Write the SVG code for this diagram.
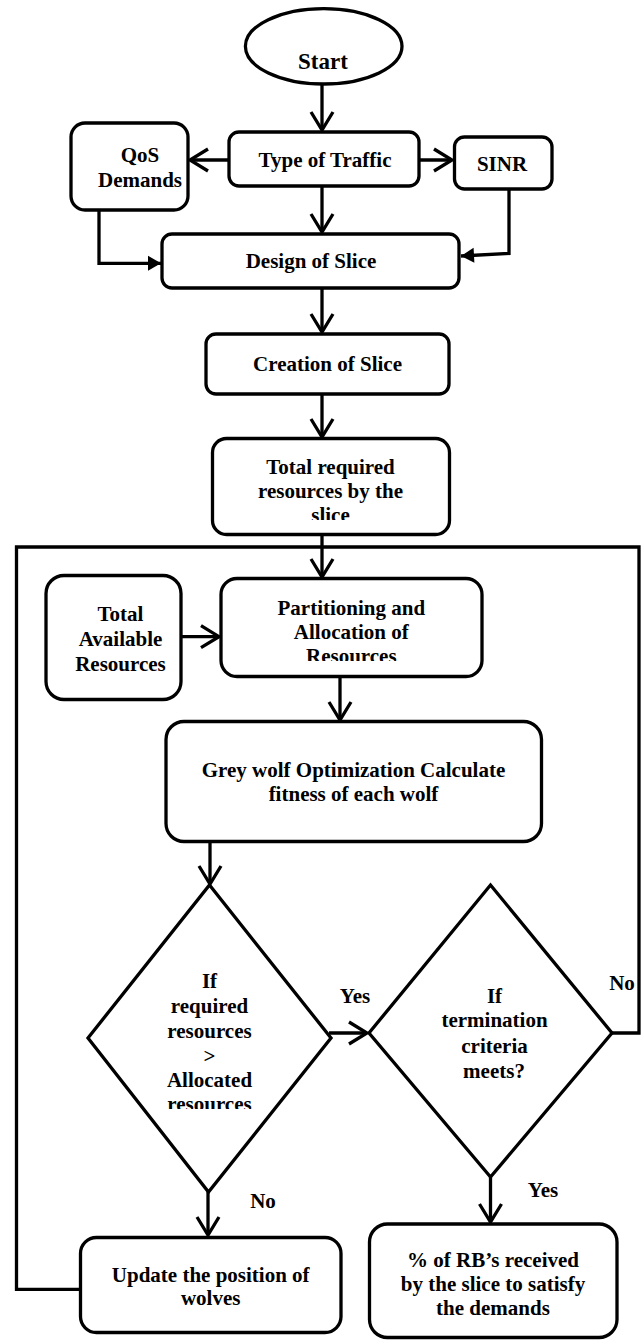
<svg xmlns="http://www.w3.org/2000/svg" width="641" height="1340" viewBox="0 0 641 1340">
<style>
.box{fill:#fff;stroke:#000;stroke-width:3.3}
.ln{fill:none;stroke:#000;stroke-width:3.3}
.t{font-family:"Liberation Serif","Times New Roman",serif;font-weight:bold;font-size:21px;fill:#000;text-anchor:middle}
</style>
<defs>
<marker id="open" markerUnits="userSpaceOnUse" viewBox="-22 -14 26 28" markerWidth="26" markerHeight="28" refX="0" refY="0" orient="auto">
<path d="M-18,-11 L0,0 L-18,11" fill="none" stroke="#000" stroke-width="3.3"/>
</marker>
<marker id="solid" markerUnits="userSpaceOnUse" viewBox="-15 -9 17 18" markerWidth="17" markerHeight="18" refX="0" refY="0" orient="auto">
<path d="M-13,-7.5 L0,0 L-13,7.5 Z" fill="#000"/>
</marker>
<clipPath id="c1"><rect x="200" y="430" width="260" height="90"/></clipPath>
<clipPath id="c2"><rect x="210" y="570" width="280" height="91"/></clipPath>
<clipPath id="c3"><rect x="80" y="960" width="260" height="149"/></clipPath>
</defs>

<g id="connectors">
<line class="ln" x1="322" y1="85" x2="322" y2="130" marker-end="url(#open)"/>
<line class="ln" x1="229" y1="160" x2="190" y2="160" marker-end="url(#open)"/>
<line class="ln" x1="419" y1="160" x2="452" y2="160" marker-end="url(#open)"/>
<line class="ln" x1="322" y1="186" x2="322" y2="232" marker-end="url(#open)"/>
<path class="ln" d="M99,210 V263.3 H161" marker-end="url(#solid)"/>
<path class="ln" d="M509,189 V253.5 L461,256" marker-end="url(#solid)"/>
<line class="ln" x1="322" y1="288" x2="322" y2="332" marker-end="url(#open)"/>
<line class="ln" x1="322" y1="394" x2="322" y2="437" marker-end="url(#open)"/>
<line class="ln" x1="322" y1="535" x2="322" y2="577" marker-end="url(#open)"/>
<path class="ln" d="M80,1289.3 H16.5 V547 H639 V1033 H612"/>
<line class="ln" x1="181" y1="636.7" x2="219" y2="636.7" marker-end="url(#open)"/>
<line class="ln" x1="340" y1="677" x2="340" y2="720" marker-end="url(#open)"/>
<line class="ln" x1="210" y1="842" x2="210" y2="884" marker-end="url(#open)"/>
<line class="ln" x1="329" y1="1033" x2="367" y2="1033" marker-end="url(#open)"/>
<line class="ln" x1="208" y1="1192" x2="208" y2="1235" marker-end="url(#open)"/>
<line class="ln" x1="490.5" y1="1177" x2="490.5" y2="1222" marker-end="url(#open)"/>
<text class="t" x="355" y="1003">Yes</text>
<text class="t" x="622" y="990">No</text>
<text class="t" x="263" y="1208">No</text>
<text class="t" x="543" y="1197">Yes</text>
</g>

<g id="start">
<ellipse class="box" cx="323.7" cy="46.3" rx="78.3" ry="37.7"/>
<text class="t" x="323" y="69" style="font-size:23px">Start</text>
</g>
<g id="traffic">
<rect class="box" x="229" y="132" width="190" height="54" rx="10"/>
<text class="t" x="325" y="167">Type of Traffic</text>
</g>
<g id="qos">
<rect class="box" x="71" y="123" width="117" height="87" rx="14"/>
<text class="t" x="140" y="162">QoS</text>
<text class="t" x="140" y="187">Demands</text>
</g>
<g id="sinr">
<rect class="box" x="454.5" y="137" width="97.5" height="52" rx="10"/>
<text class="t" x="502" y="171">SINR</text>
</g>
<g id="design">
<rect class="box" x="162" y="234" width="297" height="54" rx="10"/>
<text class="t" x="311" y="268">Design of Slice</text>
</g>
<g id="creation">
<rect class="box" x="206" y="334" width="243" height="60" rx="10"/>
<text class="t" x="327.5" y="371">Creation of Slice</text>
</g>
<g id="total-required">
<rect class="box" x="212.5" y="438.5" width="237" height="96" rx="14"/>
<g clip-path="url(#c1)">
<text class="t" x="330.5" y="474.3">Total required</text>
<text class="t" x="330.5" y="498.3">resources by the</text>
<text class="t" x="330.5" y="522.3">slice</text>
</g>
</g>
<g id="total-available">
<rect class="box" x="46" y="575.5" width="135" height="124" rx="18"/>
<text class="t" x="120.5" y="621">Total</text>
<text class="t" x="120.5" y="646">Available</text>
<text class="t" x="120.5" y="671">Resources</text>
</g>
<g id="partitioning">
<rect class="box" x="221" y="578.5" width="261" height="98" rx="16"/>
<g clip-path="url(#c2)">
<text class="t" x="351.3" y="615">Partitioning and</text>
<text class="t" x="351.3" y="639.3">Allocation of</text>
<text class="t" x="351.3" y="663.3">Resources</text>
</g>
</g>
<g id="gwo">
<rect class="box" x="166" y="721.5" width="375.5" height="120" rx="18"/>
<text class="t" x="353.5" y="776.7">Grey wolf Optimization Calculate</text>
<text class="t" x="353.5" y="800.7">fitness of each wolf</text>
</g>
<g id="decision-resources">
<polygon class="box" points="209.5,885 331,1038 208.5,1192 88,1038"/>
<g clip-path="url(#c3)">
<text class="t" x="209.5" y="988.3">If</text>
<text class="t" x="209.5" y="1013.3">required</text>
<text class="t" x="209.5" y="1037.7">resources</text>
<text class="t" x="209.5" y="1062.7">&gt;</text>
<text class="t" x="209.5" y="1086.7">Allocated</text>
<text class="t" x="209.5" y="1111">resources</text>
</g>
</g>
<g id="decision-termination">
<polygon class="box" points="490.5,885 612,1033 490.5,1177 369,1033"/>
<text class="t" x="494.5" y="1003.3">If</text>
<text class="t" x="494.5" y="1027.3">termination</text>
<text class="t" x="494.5" y="1052.7">criteria</text>
<text class="t" x="494" y="1078.3">meets?</text>
</g>
<g id="update">
<rect class="box" x="80.5" y="1237.5" width="260.5" height="95" rx="16"/>
<text class="t" x="210.7" y="1281.7">Update the position of</text>
<text class="t" x="210.7" y="1305">wolves</text>
</g>
<g id="result">
<rect class="box" x="369.5" y="1224" width="247.5" height="113.5" rx="18"/>
<text class="t" x="493" y="1266.7">% of RB’s received</text>
<text class="t" x="493" y="1291">by the slice to satisfy</text>
<text class="t" x="493" y="1315">the demands</text>
</g>
</svg>
